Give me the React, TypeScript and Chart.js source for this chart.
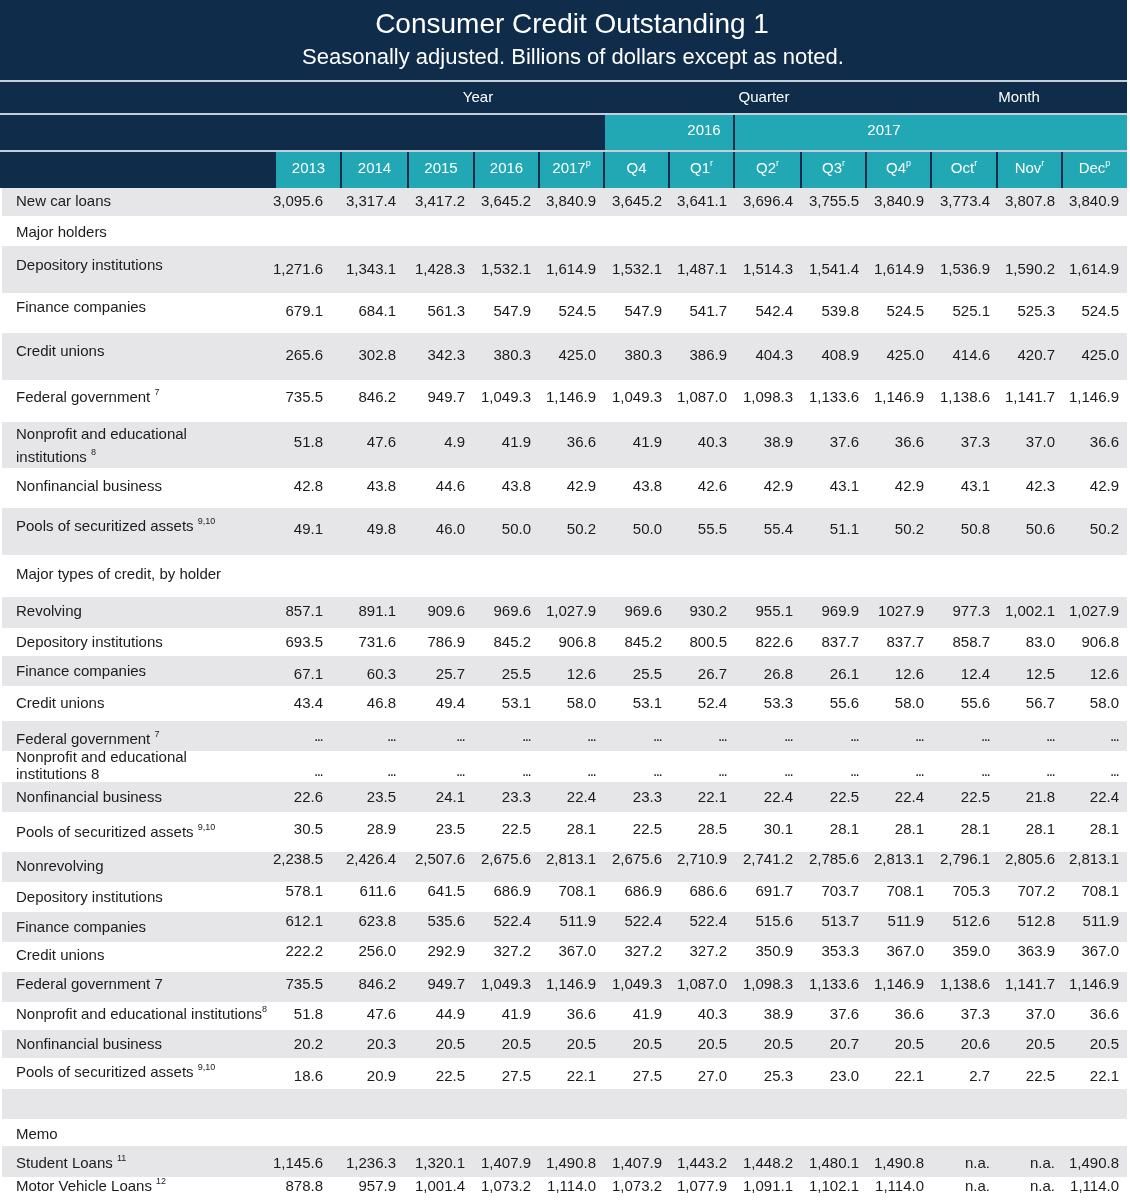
import React, { useEffect, useRef } from "react";
import { Chart, registerables } from "chart.js";

Chart.register(...registerables);

// ---------- texts ----------
const title = "Consumer Credit Outstanding 1";
const subtitle = "Seasonally adjusted. Billions of dollars except as noted.";
const groupLabels = ["Year", "Quarter", "Month"];
const yearLabels = ["2016", "2017"];
const columnLabels = ["2013", "2014", "2015", "2016", "2017", "Q4", "Q1", "Q2", "Q3", "Q4", "Oct", "Nov", "Dec"];
const columnMarks = ["", "", "", "", "p", "", "r", "r", "r", "p", "r", "r", "p"];

// ---------- row labels ----------
const rowLabels: string[][] = [
  ["New car loans"],
  ["Major holders"],
  ["Depository institutions"],
  ["Finance companies"],
  ["Credit unions"],
  ["Federal government "],
  ["Nonprofit and educational", "institutions "],
  ["Nonfinancial business"],
  ["Pools of securitized assets "],
  ["Major types of credit, by holder"],
  ["Revolving"],
  ["Depository institutions"],
  ["Finance companies"],
  ["Credit unions"],
  ["Federal government "],
  ["Nonprofit and educational", "institutions 8"],
  ["Nonfinancial business"],
  ["Pools of securitized assets "],
  ["Nonrevolving"],
  ["Depository institutions"],
  ["Finance companies"],
  ["Credit unions"],
  ["Federal government 7"],
  ["Nonprofit and educational institutions"],
  ["Nonfinancial business"],
  ["Pools of securitized assets "],
  [""],
  ["Memo"],
  ["Student Loans "],
  ["Motor Vehicle Loans "],
];
const rowMarks = [
  "", "", "", "", "", "7", "8", "", "9,10", "",
  "", "", "", "", "7", "", "", "9,10", "",
  "", "", "", "", "8", "", "9,10", "", "", "11", "12",
];

// ---------- values ----------
const newCarLoans = ["3,095.6", "3,317.4", "3,417.2", "3,645.2", "3,840.9", "3,645.2", "3,641.1", "3,696.4", "3,755.5", "3,840.9", "3,773.4", "3,807.8", "3,840.9"];
const holdersDepository = ["1,271.6", "1,343.1", "1,428.3", "1,532.1", "1,614.9", "1,532.1", "1,487.1", "1,514.3", "1,541.4", "1,614.9", "1,536.9", "1,590.2", "1,614.9"];
const holdersFinance = ["679.1", "684.1", "561.3", "547.9", "524.5", "547.9", "541.7", "542.4", "539.8", "524.5", "525.1", "525.3", "524.5"];
const holdersCreditUnions = ["265.6", "302.8", "342.3", "380.3", "425.0", "380.3", "386.9", "404.3", "408.9", "425.0", "414.6", "420.7", "425.0"];
const holdersFederal = ["735.5", "846.2", "949.7", "1,049.3", "1,146.9", "1,049.3", "1,087.0", "1,098.3", "1,133.6", "1,146.9", "1,138.6", "1,141.7", "1,146.9"];
const holdersNonprofit = ["51.8", "47.6", "4.9", "41.9", "36.6", "41.9", "40.3", "38.9", "37.6", "36.6", "37.3", "37.0", "36.6"];
const holdersNonfinancial = ["42.8", "43.8", "44.6", "43.8", "42.9", "43.8", "42.6", "42.9", "43.1", "42.9", "43.1", "42.3", "42.9"];
const holdersPools = ["49.1", "49.8", "46.0", "50.0", "50.2", "50.0", "55.5", "55.4", "51.1", "50.2", "50.8", "50.6", "50.2"];
const revolving = ["857.1", "891.1", "909.6", "969.6", "1,027.9", "969.6", "930.2", "955.1", "969.9", "1027.9", "977.3", "1,002.1", "1,027.9"];
const revDepository = ["693.5", "731.6", "786.9", "845.2", "906.8", "845.2", "800.5", "822.6", "837.7", "837.7", "858.7", "83.0", "906.8"];
const revFinance = ["67.1", "60.3", "25.7", "25.5", "12.6", "25.5", "26.7", "26.8", "26.1", "12.6", "12.4", "12.5", "12.6"];
const revCreditUnions = ["43.4", "46.8", "49.4", "53.1", "58.0", "53.1", "52.4", "53.3", "55.6", "58.0", "55.6", "56.7", "58.0"];
const revFederal = ["...", "...", "...", "...", "...", "...", "...", "...", "...", "...", "...", "...", "..."];
const revNonprofit = ["...", "...", "...", "...", "...", "...", "...", "...", "...", "...", "...", "...", "..."];
const revNonfinancial = ["22.6", "23.5", "24.1", "23.3", "22.4", "23.3", "22.1", "22.4", "22.5", "22.4", "22.5", "21.8", "22.4"];
const revPools = ["30.5", "28.9", "23.5", "22.5", "28.1", "22.5", "28.5", "30.1", "28.1", "28.1", "28.1", "28.1", "28.1"];
const nonrevolving = ["2,238.5", "2,426.4", "2,507.6", "2,675.6", "2,813.1", "2,675.6", "2,710.9", "2,741.2", "2,785.6", "2,813.1", "2,796.1", "2,805.6", "2,813.1"];
const nonrevDepository = ["578.1", "611.6", "641.5", "686.9", "708.1", "686.9", "686.6", "691.7", "703.7", "708.1", "705.3", "707.2", "708.1"];
const nonrevFinance = ["612.1", "623.8", "535.6", "522.4", "511.9", "522.4", "522.4", "515.6", "513.7", "511.9", "512.6", "512.8", "511.9"];
const nonrevCreditUnions = ["222.2", "256.0", "292.9", "327.2", "367.0", "327.2", "327.2", "350.9", "353.3", "367.0", "359.0", "363.9", "367.0"];
const nonrevFederal = ["735.5", "846.2", "949.7", "1,049.3", "1,146.9", "1,049.3", "1,087.0", "1,098.3", "1,133.6", "1,146.9", "1,138.6", "1,141.7", "1,146.9"];
const nonrevNonprofit = ["51.8", "47.6", "44.9", "41.9", "36.6", "41.9", "40.3", "38.9", "37.6", "36.6", "37.3", "37.0", "36.6"];
const nonrevNonfinancial = ["20.2", "20.3", "20.5", "20.5", "20.5", "20.5", "20.5", "20.5", "20.7", "20.5", "20.6", "20.5", "20.5"];
const nonrevPools = ["18.6", "20.9", "22.5", "27.5", "22.1", "27.5", "27.0", "25.3", "23.0", "22.1", "2.7", "22.5", "22.1"];
const studentLoans = ["1,145.6", "1,236.3", "1,320.1", "1,407.9", "1,490.8", "1,407.9", "1,443.2", "1,448.2", "1,480.1", "1,490.8", "n.a.", "n.a.", "1,490.8"];
const motorVehicleLoans = ["878.8", "957.9", "1,001.4", "1,073.2", "1,114.0", "1,073.2", "1,077.9", "1,091.1", "1,102.1", "1,114.0", "n.a.", "n.a.", "1,114.0"];

const rowValues: (string[] | null)[] = [
  newCarLoans, null, holdersDepository, holdersFinance, holdersCreditUnions, holdersFederal,
  holdersNonprofit, holdersNonfinancial, holdersPools, null,
  revolving, revDepository, revFinance, revCreditUnions, revFederal, revNonprofit, revNonfinancial, revPools,
  nonrevolving, nonrevDepository, nonrevFinance, nonrevCreditUnions, nonrevFederal, nonrevNonprofit,
  nonrevNonfinancial, nonrevPools, null, null, studentLoans, motorVehicleLoans,
];

// ---------- layout (pixels in table units) ----------
const W = 1130;
const H = 1203;
const TABLE_RIGHT = 1127;
const colEdges = [276, 341, 408, 474, 539, 604, 669, 734, 801, 866, 931, 997, 1062, 1127];
const valueRight = [323, 396, 465, 531, 596, 662, 727, 793, 859, 924, 990, 1055, 1119];
const rowTop = [188, 216, 246, 293, 333, 380, 422, 468, 508, 555, 597, 628, 656, 686, 721, 751, 782, 812, 852, 882, 912, 942, 972, 1002, 1030, 1058, 1089, 1119, 1146, 1177, 1203];
const labelY: number[][] = [
  [202], [233], [266], [308], [352], [398], [435, 458], [487], [527], [575],
  [612], [643], [672], [704], [740], [758, 775], [798], [833],
  [867], [898], [928], [956], [985], [1015], [1045], [1073], [], [1135], [1164], [1187],
];
const valueY = [202, 0, 270, 312, 356, 398, 443, 487, 530, 0, 612, 643, 675, 704, 738, 773, 798, 830, 860, 892, 922, 952, 985, 1015, 1045, 1077, 0, 0, 1164, 1187];

const NAVY = "#0f2d4a";
const TEAL = "#22a8b4";
const STRIPE = "#e6e6e8";
const RULE = "#c3cfd9";
const INK = "#1c1c1c";
const FONT = '"Liberation Sans", Arial, Helvetica, sans-serif';

function drawWithSup(ctx: CanvasRenderingContext2D, base: string, sup: string, x: number, y: number, size: number, align: "left" | "center" | "right", supGap = 0) {
  ctx.font = `${size}px ${FONT}`;
  const bw = ctx.measureText(base).width;
  const supSize = Math.round(size * 0.6);
  ctx.font = `${supSize}px ${FONT}`;
  const sw = sup ? ctx.measureText(sup).width + supGap : 0;
  const total = bw + sw;
  let x0 = x;
  if (align === "center") x0 = x - total / 2;
  else if (align === "right") x0 = x - total;
  ctx.textAlign = "left";
  ctx.textBaseline = "middle";
  ctx.font = `${size}px ${FONT}`;
  ctx.fillText(base, x0, y);
  if (sup) {
    ctx.font = `${supSize}px ${FONT}`;
    ctx.fillText(sup, x0 + bw + supGap, y - size * 0.38);
  }
}

const tablePlugin = {
  id: "consumerCreditTable",
  beforeDatasetsDraw(chart: any) {
    const ctx: CanvasRenderingContext2D = chart.ctx;
    const xs = chart.scales.x;
    const ys = chart.scales.y;
    const X = (v: number) => xs.getPixelForValue(v);
    const Y = (v: number) => ys.getPixelForValue(v);
    const rect = (x0: number, y0: number, x1: number, y1: number, color: string) => {
      ctx.fillStyle = color;
      ctx.fillRect(X(x0), Y(y0), X(x1) - X(x0), Y(y1) - Y(y0));
    };
    ctx.save();
    rect(0, 0, W, H, "#ffffff");
    // header block
    rect(0, 0, TABLE_RIGHT, 188, NAVY);
    rect(0, 80, TABLE_RIGHT, 82, RULE);
    rect(0, 113, TABLE_RIGHT, 115, RULE);
    rect(0, 150, TABLE_RIGHT, 152, RULE);
    // year group cells
    rect(605, 115, 733, 150, TEAL);
    rect(735, 115, TABLE_RIGHT, 150, TEAL);
    // column header cells
    for (let i = 0; i < columnLabels.length; i++) {
      const x0 = i === 0 ? colEdges[i] : colEdges[i] + 1;
      const x1 = i === columnLabels.length - 1 ? colEdges[i + 1] : colEdges[i + 1] - 1;
      rect(x0, 152, x1, 188, TEAL);
    }
    // zebra stripes
    for (let r = 0; r < rowLabels.length; r++) {
      if (r % 2 === 0) rect(2, rowTop[r], TABLE_RIGHT, rowTop[r + 1], STRIPE);
    }

    // header texts
    ctx.fillStyle = "#ffffff";
    ctx.textAlign = "center";
    ctx.textBaseline = "middle";
    ctx.font = `28px ${FONT}`;
    ctx.fillText(title, X(572), Y(25));
    ctx.font = `22px ${FONT}`;
    ctx.fillText(subtitle, X(573), Y(58));
    const groupX = [478, 764, 1019];
    ctx.font = `15px ${FONT}`;
    groupLabels.forEach((g, i) => ctx.fillText(g, X(groupX[i]), Y(98)));
    const yearX = [704, 884];
    yearLabels.forEach((g, i) => ctx.fillText(g, X(yearX[i]), Y(131)));
    for (let i = 0; i < columnLabels.length; i++) {
      const cx = (colEdges[i] + colEdges[i + 1]) / 2;
      ctx.fillStyle = "#ffffff";
      drawWithSup(ctx, columnLabels[i], columnMarks[i], X(cx), Y(169), 15, "center");
    }

    // row labels
    ctx.fillStyle = INK;
    for (let r = 0; r < rowLabels.length; r++) {
      const lines = rowLabels[r];
      lines.forEach((line, k) => {
        const sup = k === lines.length - 1 ? rowMarks[r] : "";
        ctx.fillStyle = INK;
        drawWithSup(ctx, line, sup, X(16), Y(labelY[r][k]), 15, "left");
      });
    }
    ctx.restore();
  },
  afterDatasetsDraw(chart: any) {
    const ctx: CanvasRenderingContext2D = chart.ctx;
    ctx.save();
    ctx.fillStyle = INK;
    ctx.textAlign = "right";
    ctx.textBaseline = "middle";
    chart.data.datasets.forEach((ds: any, i: number) => {
      const meta = chart.getDatasetMeta(i);
      meta.data.forEach((pt: any, j: number) => {
        const txt = ds.cellText[j];
        if (txt === "...") {
          ctx.font = `bold 10px ${FONT}`;
          ctx.fillText("...", pt.x, pt.y);
        } else {
          ctx.font = `15px ${FONT}`;
          ctx.fillText(txt, pt.x, pt.y);
        }
      });
    });
    ctx.restore();
  },
};

export default function App() {
  const canvasRef = useRef<HTMLCanvasElement | null>(null);

  useEffect(() => {
    document.body.style.margin = "0";
    const canvas = canvasRef.current;
    if (!canvas) return;
    const datasets: any[] = [];
    rowValues.forEach((vals, r) => {
      if (!vals) return;
      datasets.push({
        label: rowLabels[r].join(" "),
        data: vals.map((_, j) => ({ x: valueRight[j], y: valueY[r] })),
        cellText: vals,
        pointRadius: 0,
        pointHoverRadius: 0,
        showLine: false,
      });
    });
    const chart = new Chart(canvas, {
      type: "scatter",
      data: { datasets },
      options: {
        animation: false,
        responsive: false,
        devicePixelRatio: 1,
        events: [],
        layout: { padding: 0 },
        scales: {
          x: { type: "linear", min: 0, max: W, display: false },
          y: { type: "linear", min: 0, max: H, reverse: true, display: false },
        },
        plugins: { legend: { display: false }, tooltip: { enabled: false }, title: { display: false } },
      },
      plugins: [tablePlugin],
    } as any);
    return () => chart.destroy();
  }, []);

  return (
    <div style={{ position: "absolute", left: 0, top: 0, width: W, height: H }}>
      <canvas ref={canvasRef} width={W} height={H} style={{ display: "block", width: W, height: H }} />
    </div>
  );
}
